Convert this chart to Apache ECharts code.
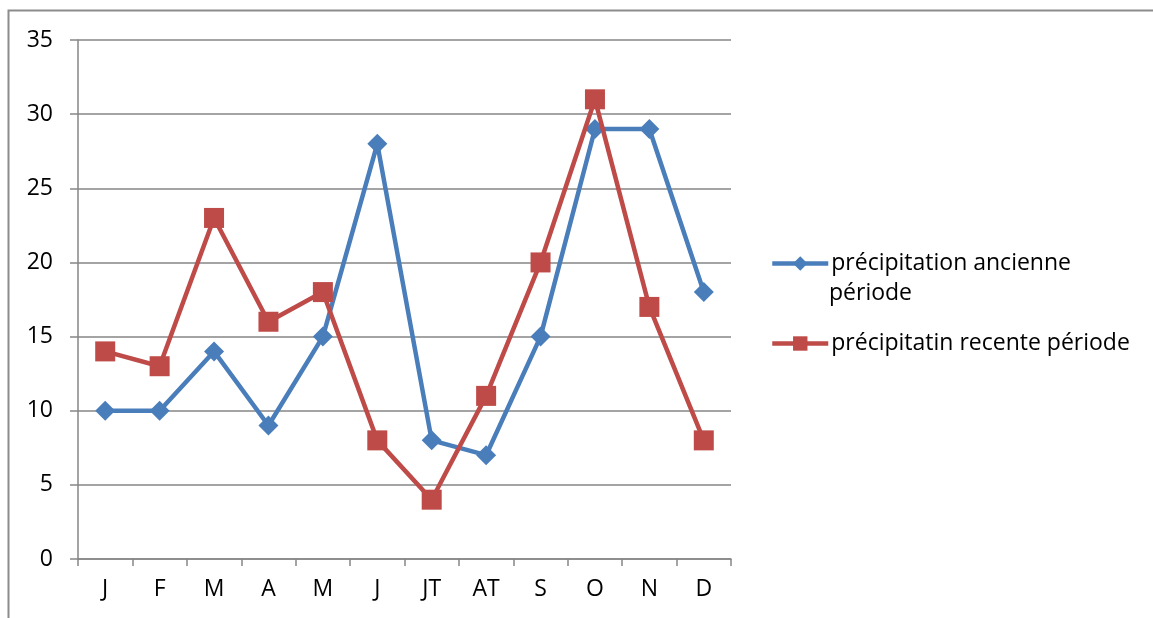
<!DOCTYPE html>
<html>
<head>
<meta charset="utf-8">
<script src="https://cdn.jsdelivr.net/npm/echarts@6/dist/echarts.min.js"></script>
<style>
  html, body { margin: 0; padding: 0; background: #fff; }
  #chart { width: 1153px; height: 618px; }
</style>
</head>
<body>
<div id="chart"></div>
<script>
// Monthly rainfall, two periods
const months = ['J', 'F', 'M', 'A', 'M', 'J', 'JT', 'AT', 'S', 'O', 'N', 'D'];
const ancienne = [10, 10, 14, 9, 15, 28, 8, 7, 15, 29, 29, 18];
const recente = [14, 13, 23, 16, 18, 8, 4, 11, 20, 31, 17, 8];
const nameAncienne = 'précipitation ancienne période';
const nameRecente = 'précipitatin recente période';

const FONT = 'Open Sans';
const AXIS_COLOR = '#868686';
const BLUE = '#4A7EBB';
const RED = '#BE4B48';

const chart = echarts.init(document.getElementById('chart'), null, { renderer: 'canvas' });
chart.setOption({
  animation: false,
  textStyle: { fontFamily: FONT },
  graphic: [
    {
      type: 'rect',
      shape: { x: 8.5, y: 10.5, width: 1200, height: 700 },
      style: { fill: 'none', stroke: '#8c8c8c', lineWidth: 2 },
      silent: true,
      z: -1
    },
    {
      // second line of the wrapped first legend entry
      type: 'text',
      left: 829,
      top: 282,
      style: { text: 'période', fontFamily: FONT, fontSize: 23, fill: '#000' },
      silent: true
    }
  ],
  grid: { left: 78, right: 422, top: 40, bottom: 59 },
  legend: {
    orient: 'vertical',
    left: 770,
    top: 252,
    padding: 0,
    itemWidth: 56,
    itemHeight: 18,
    itemGap: 57,
    textStyle: { fontFamily: FONT, fontSize: 23, color: '#000', padding: [0, 0, 0, -2] },
    formatter: function (n) {
      return n === nameAncienne ? 'précipitation ancienne' : n;
    },
    data: [
      { name: nameAncienne, itemStyle: { color: BLUE }, lineStyle: { color: BLUE, width: 4.5 } },
      { name: nameRecente, itemStyle: { color: RED }, lineStyle: { color: RED, width: 4.5 } }
    ]
  },
  xAxis: {
    type: 'category',
    data: months,
    boundaryGap: true,
    axisLine: { lineStyle: { color: AXIS_COLOR, width: 1.5 } },
    axisTick: { show: true, length: 7, lineStyle: { color: AXIS_COLOR, width: 1.5 } },
    axisLabel: { color: '#000', fontSize: 23, fontFamily: FONT, margin: 19 }
  },
  yAxis: {
    type: 'value',
    min: 0,
    max: 35,
    interval: 5,
    axisLine: { show: true, lineStyle: { color: AXIS_COLOR, width: 1.5 } },
    axisTick: { show: true, length: 8, lineStyle: { color: AXIS_COLOR, width: 1.5 } },
    splitLine: { lineStyle: { color: AXIS_COLOR, width: 1.5 } },
    axisLabel: { color: '#000', fontSize: 23, fontFamily: FONT, margin: 25 }
  },
  series: [
    {
      name: nameAncienne,
      type: 'line',
      data: ancienne,
      symbol: 'diamond',
      symbolSize: 20,
      lineStyle: { color: BLUE, width: 4.5 },
      itemStyle: { color: BLUE },
      z: 2
    },
    {
      name: nameRecente,
      type: 'line',
      data: recente,
      symbol: 'rect',
      symbolSize: 20,
      lineStyle: { color: RED, width: 4.5 },
      itemStyle: { color: RED },
      z: 3
    }
  ]
});
</script>
</body>
</html>
